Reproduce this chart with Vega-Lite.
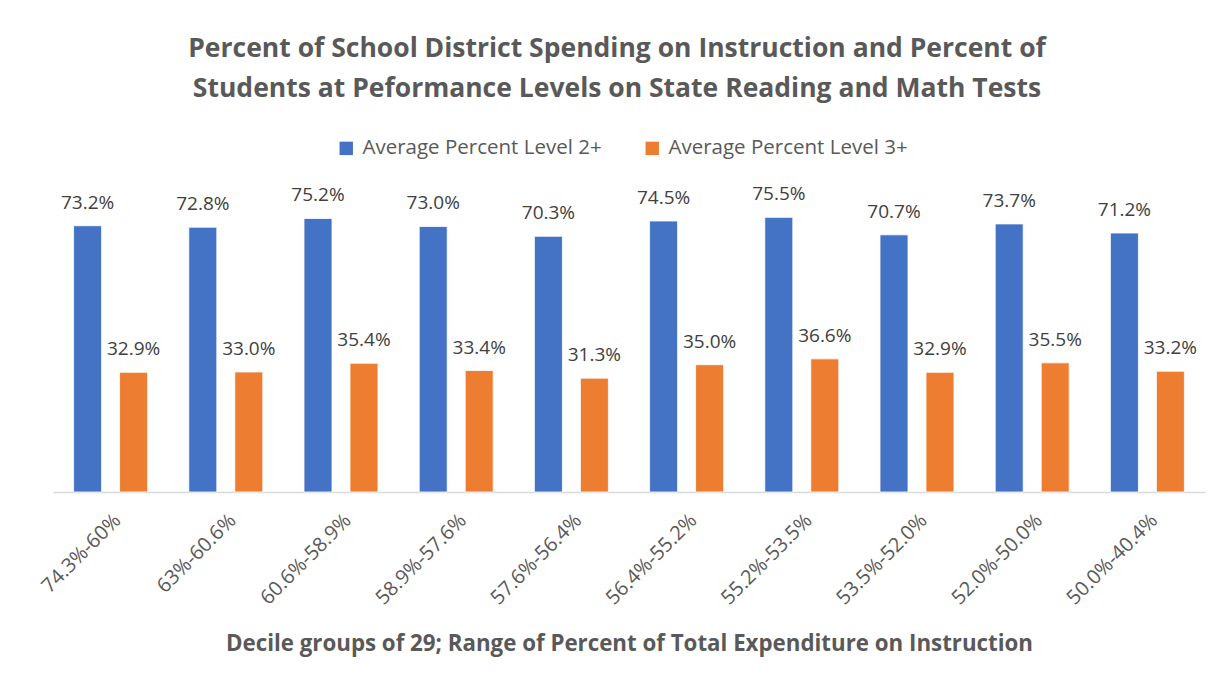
{
  "$schema": "https://vega.github.io/schema/vega-lite/v6.json",
  "width": 1152,
  "height": 291,
  "autosize": {"type": "none"},
  "padding": {"left": 53, "top": 201, "right": 18, "bottom": 193},
  "background": "white",
  "title": {
    "text": ["Percent of School District Spending on Instruction and Percent of", "Students at Peformance Levels on State Reading and Math Tests"],
    "font": "Open Sans",
    "fontSize": 26.5,
    "fontWeight": "bold",
    "color": "#595959",
    "anchor": "middle",
    "lineHeight": 40,
    "offset": 36,
    "dx": -12
  },
  "data": {
    "values": [
      {"group": "74.3%-60%", "series": "Average Percent Level 2+", "value": 0.732},
      {"group": "74.3%-60%", "series": "Average Percent Level 3+", "value": 0.329},
      {"group": "63%-60.6%", "series": "Average Percent Level 2+", "value": 0.728},
      {"group": "63%-60.6%", "series": "Average Percent Level 3+", "value": 0.330},
      {"group": "60.6%-58.9%", "series": "Average Percent Level 2+", "value": 0.752},
      {"group": "60.6%-58.9%", "series": "Average Percent Level 3+", "value": 0.354},
      {"group": "58.9%-57.6%", "series": "Average Percent Level 2+", "value": 0.730},
      {"group": "58.9%-57.6%", "series": "Average Percent Level 3+", "value": 0.334},
      {"group": "57.6%-56.4%", "series": "Average Percent Level 2+", "value": 0.703},
      {"group": "57.6%-56.4%", "series": "Average Percent Level 3+", "value": 0.313},
      {"group": "56.4%-55.2%", "series": "Average Percent Level 2+", "value": 0.745},
      {"group": "56.4%-55.2%", "series": "Average Percent Level 3+", "value": 0.350},
      {"group": "55.2%-53.5%", "series": "Average Percent Level 2+", "value": 0.755},
      {"group": "55.2%-53.5%", "series": "Average Percent Level 3+", "value": 0.366},
      {"group": "53.5%-52.0%", "series": "Average Percent Level 2+", "value": 0.707},
      {"group": "53.5%-52.0%", "series": "Average Percent Level 3+", "value": 0.329},
      {"group": "52.0%-50.0%", "series": "Average Percent Level 2+", "value": 0.737},
      {"group": "52.0%-50.0%", "series": "Average Percent Level 3+", "value": 0.355},
      {"group": "50.0%-40.4%", "series": "Average Percent Level 2+", "value": 0.712},
      {"group": "50.0%-40.4%", "series": "Average Percent Level 3+", "value": 0.332}
    ]
  },
  "encoding": {
    "x": {
      "field": "group",
      "type": "nominal",
      "sort": null,
      "scale": {"paddingInner": 0, "paddingOuter": 0},
      "axis": {
        "title": "Decile groups of 29; Range of Percent of Total Expenditure on Instruction",
        "titleFont": "Open Sans",
        "titleFontSize": 22.3,
        "titleFontWeight": "bold",
        "titleColor": "#595959",
        "titlePadding": 24,
        "labelAngle": -45,
        "labelFont": "Open Sans",
        "labelFontSize": 20,
        "labelColor": "#595959",
        "labelPadding": 18,
        "labelLimit": 0,
        "ticks": false,
        "grid": false,
        "domainColor": "#d9d9d9",
        "domainWidth": 1.5
      }
    },
    "xOffset": {
      "field": "series",
      "type": "nominal",
      "scale": {"paddingInner": 0.391, "paddingOuter": 0.448}
    },
    "y": {
      "field": "value",
      "type": "quantitative",
      "scale": {"domain": [0, 0.8], "nice": false},
      "axis": null
    }
  },
  "layer": [
    {
      "mark": {"type": "bar", "stroke": "white", "strokeWidth": 0.8},
      "encoding": {
        "color": {
          "field": "series",
          "type": "nominal",
          "scale": {"domain": ["Average Percent Level 2+", "Average Percent Level 3+"], "range": ["#4472C4", "#ED7D31"]},
          "legend": {
            "orient": "none",
            "legendX": 283,
            "legendY": -63,
            "direction": "horizontal",
            "title": null,
            "symbolType": "square",
            "symbolSize": 180,
            "symbolStrokeWidth": 0,
            "labelFont": "Open Sans",
            "labelFontSize": 20.5,
            "labelColor": "#595959",
            "labelLimit": 0,
            "columnPadding": 40,
            "labelOffset": 6
          }
        }
      }
    },
    {
      "mark": {"type": "text", "baseline": "alphabetic", "dy": -17, "font": "Open Sans", "fontSize": 19, "color": "#404040"},
      "encoding": {
        "text": {"field": "value", "type": "quantitative", "format": ".1%"}
      }
    }
  ],
  "config": {"view": {"stroke": null}}
}
